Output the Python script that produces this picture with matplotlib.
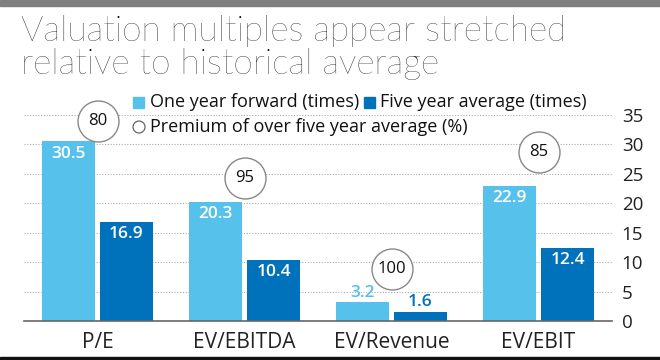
import matplotlib.pyplot as plt
from matplotlib.patches import Ellipse
import numpy as np

categories = ['P/E', 'EV/EBITDA', 'EV/Revenue', 'EV/EBIT']
one_year_fwd = [30.5, 20.3, 3.2, 22.9]
five_year_avg = [16.9, 10.4, 1.6, 12.4]
premium = [80, 95, 100, 85]
premium_y = [34.0, 24.3, 8.8, 28.7]   # where the circles sit
yticks = [0, 5, 10, 15, 20, 25, 30, 35]

light = '#56C1EA'
dark = '#0071BB'
font = 'Open Sans'
narrow = ['Liberation Sans Narrow', 'Open Sans']

fig = plt.figure(figsize=(6.6, 3.6), dpi=100)
fig.patch.set_facecolor('white')

# gray strip on top, black rule at bottom
fig.add_artist(plt.Rectangle((0, 1 - 6 / 360), 1, 6 / 360, color='#7f7f7f', transform=fig.transFigure))
fig.add_artist(plt.Rectangle((0, 0), 1, 3 / 360, color='#111111', transform=fig.transFigure))

fig.text(21 / 660, 1 - 15 / 360, 'Valuation multiples appear stretched\nrelative to historical average',
         ha='left', va='top', fontsize=25.4, family='Lato', fontweight='light',
         color='#000000', linespacing=1.02)

ax = fig.add_axes([24 / 660, 39 / 360, 588 / 660, 206 / 360])
x = np.arange(len(categories))
w = 0.36
off = 0.197

ax.bar(x - off, one_year_fwd, w, color=light, zorder=2)
ax.bar(x + off, five_year_avg, w, color=dark, zorder=2)

for i in range(len(categories)):
    v1, v2 = one_year_fwd[i], five_year_avg[i]
    if v1 > 6:
        ax.text(x[i] - off, v1 - 0.7, f'{v1}', ha='center', va='top', color='white',
                fontsize=12.5, family=font, fontweight='semibold', zorder=6)
    else:
        ax.text(x[i] - off, v1 + 0.2, f'{v1}', ha='center', va='bottom', color=light,
                fontsize=12.5, family=font, fontweight='semibold', zorder=6)
    if v2 > 6:
        ax.text(x[i] + off, v2 - 0.7, f'{v2}', ha='center', va='top', color='white',
                fontsize=12.5, family=font, fontweight='semibold', zorder=6)
    else:
        ax.text(x[i] + off, v2 + 0.2, f'{v2}', ha='center', va='bottom', color=dark,
                fontsize=12.5, family=font, fontweight='semibold', zorder=6)

ax.scatter(x, premium_y, s=870, facecolor='white', edgecolor='#888888', linewidth=1.0,
           zorder=4, clip_on=False)
for i in range(len(categories)):
    ax.text(x[i], premium_y[i], str(premium[i]), ha='center', va='center', fontsize=12,
            family=font, color='#111111', zorder=5)

ax.set_xlim(-0.5, 3.5)
ax.set_ylim(0, 35)
ax.set_yticks(yticks)
ax.yaxis.tick_right()
ax.tick_params(axis='y', length=0, pad=7, labelsize=13.5, labelcolor='#222222')
ax.tick_params(axis='x', length=0, pad=8, labelsize=15, labelcolor='#222222')
ax.set_xticks(x)
ax.set_xticklabels(categories, family=narrow)
for lab in ax.get_yticklabels():
    lab.set_family(narrow)
ax.grid(axis='y', linestyle=(0, (1, 1.5)), color='#aaaaaa', linewidth=0.8, zorder=0)
for s in ['top', 'right', 'left']:
    ax.spines[s].set_visible(False)
ax.spines['bottom'].set_color('#666666')
ax.spines['bottom'].set_linewidth(1.2)

# legend drawn by hand
fig.add_artist(plt.Rectangle((133 / 660, 1 - 108 / 360), 11 / 660, 11 / 360, color=light,
                             transform=fig.transFigure))
fig.text(150 / 660, 1 - 102 / 360, 'One year forward (times)', va='center', ha='left',
         fontsize=13, family=narrow, color='#111111')
fig.add_artist(plt.Rectangle((364 / 660, 1 - 108 / 360), 11 / 660, 11 / 360, color=dark,
                             transform=fig.transFigure))
fig.text(380 / 660, 1 - 102 / 360, 'Five year average (times)', va='center', ha='left',
         fontsize=13, family=narrow, color='#111111')
fig.add_artist(Ellipse((139 / 660, 1 - 127 / 360), 12 / 660, 12 / 360, transform=fig.transFigure,
                       facecolor='white', edgecolor='#555555', linewidth=0.8))
fig.text(150 / 660, 1 - 127 / 360, 'Premium of over five year average (%)', va='center', ha='left',
         fontsize=13, family=narrow, color='#111111')

fig.savefig('out.png', dpi=100)
